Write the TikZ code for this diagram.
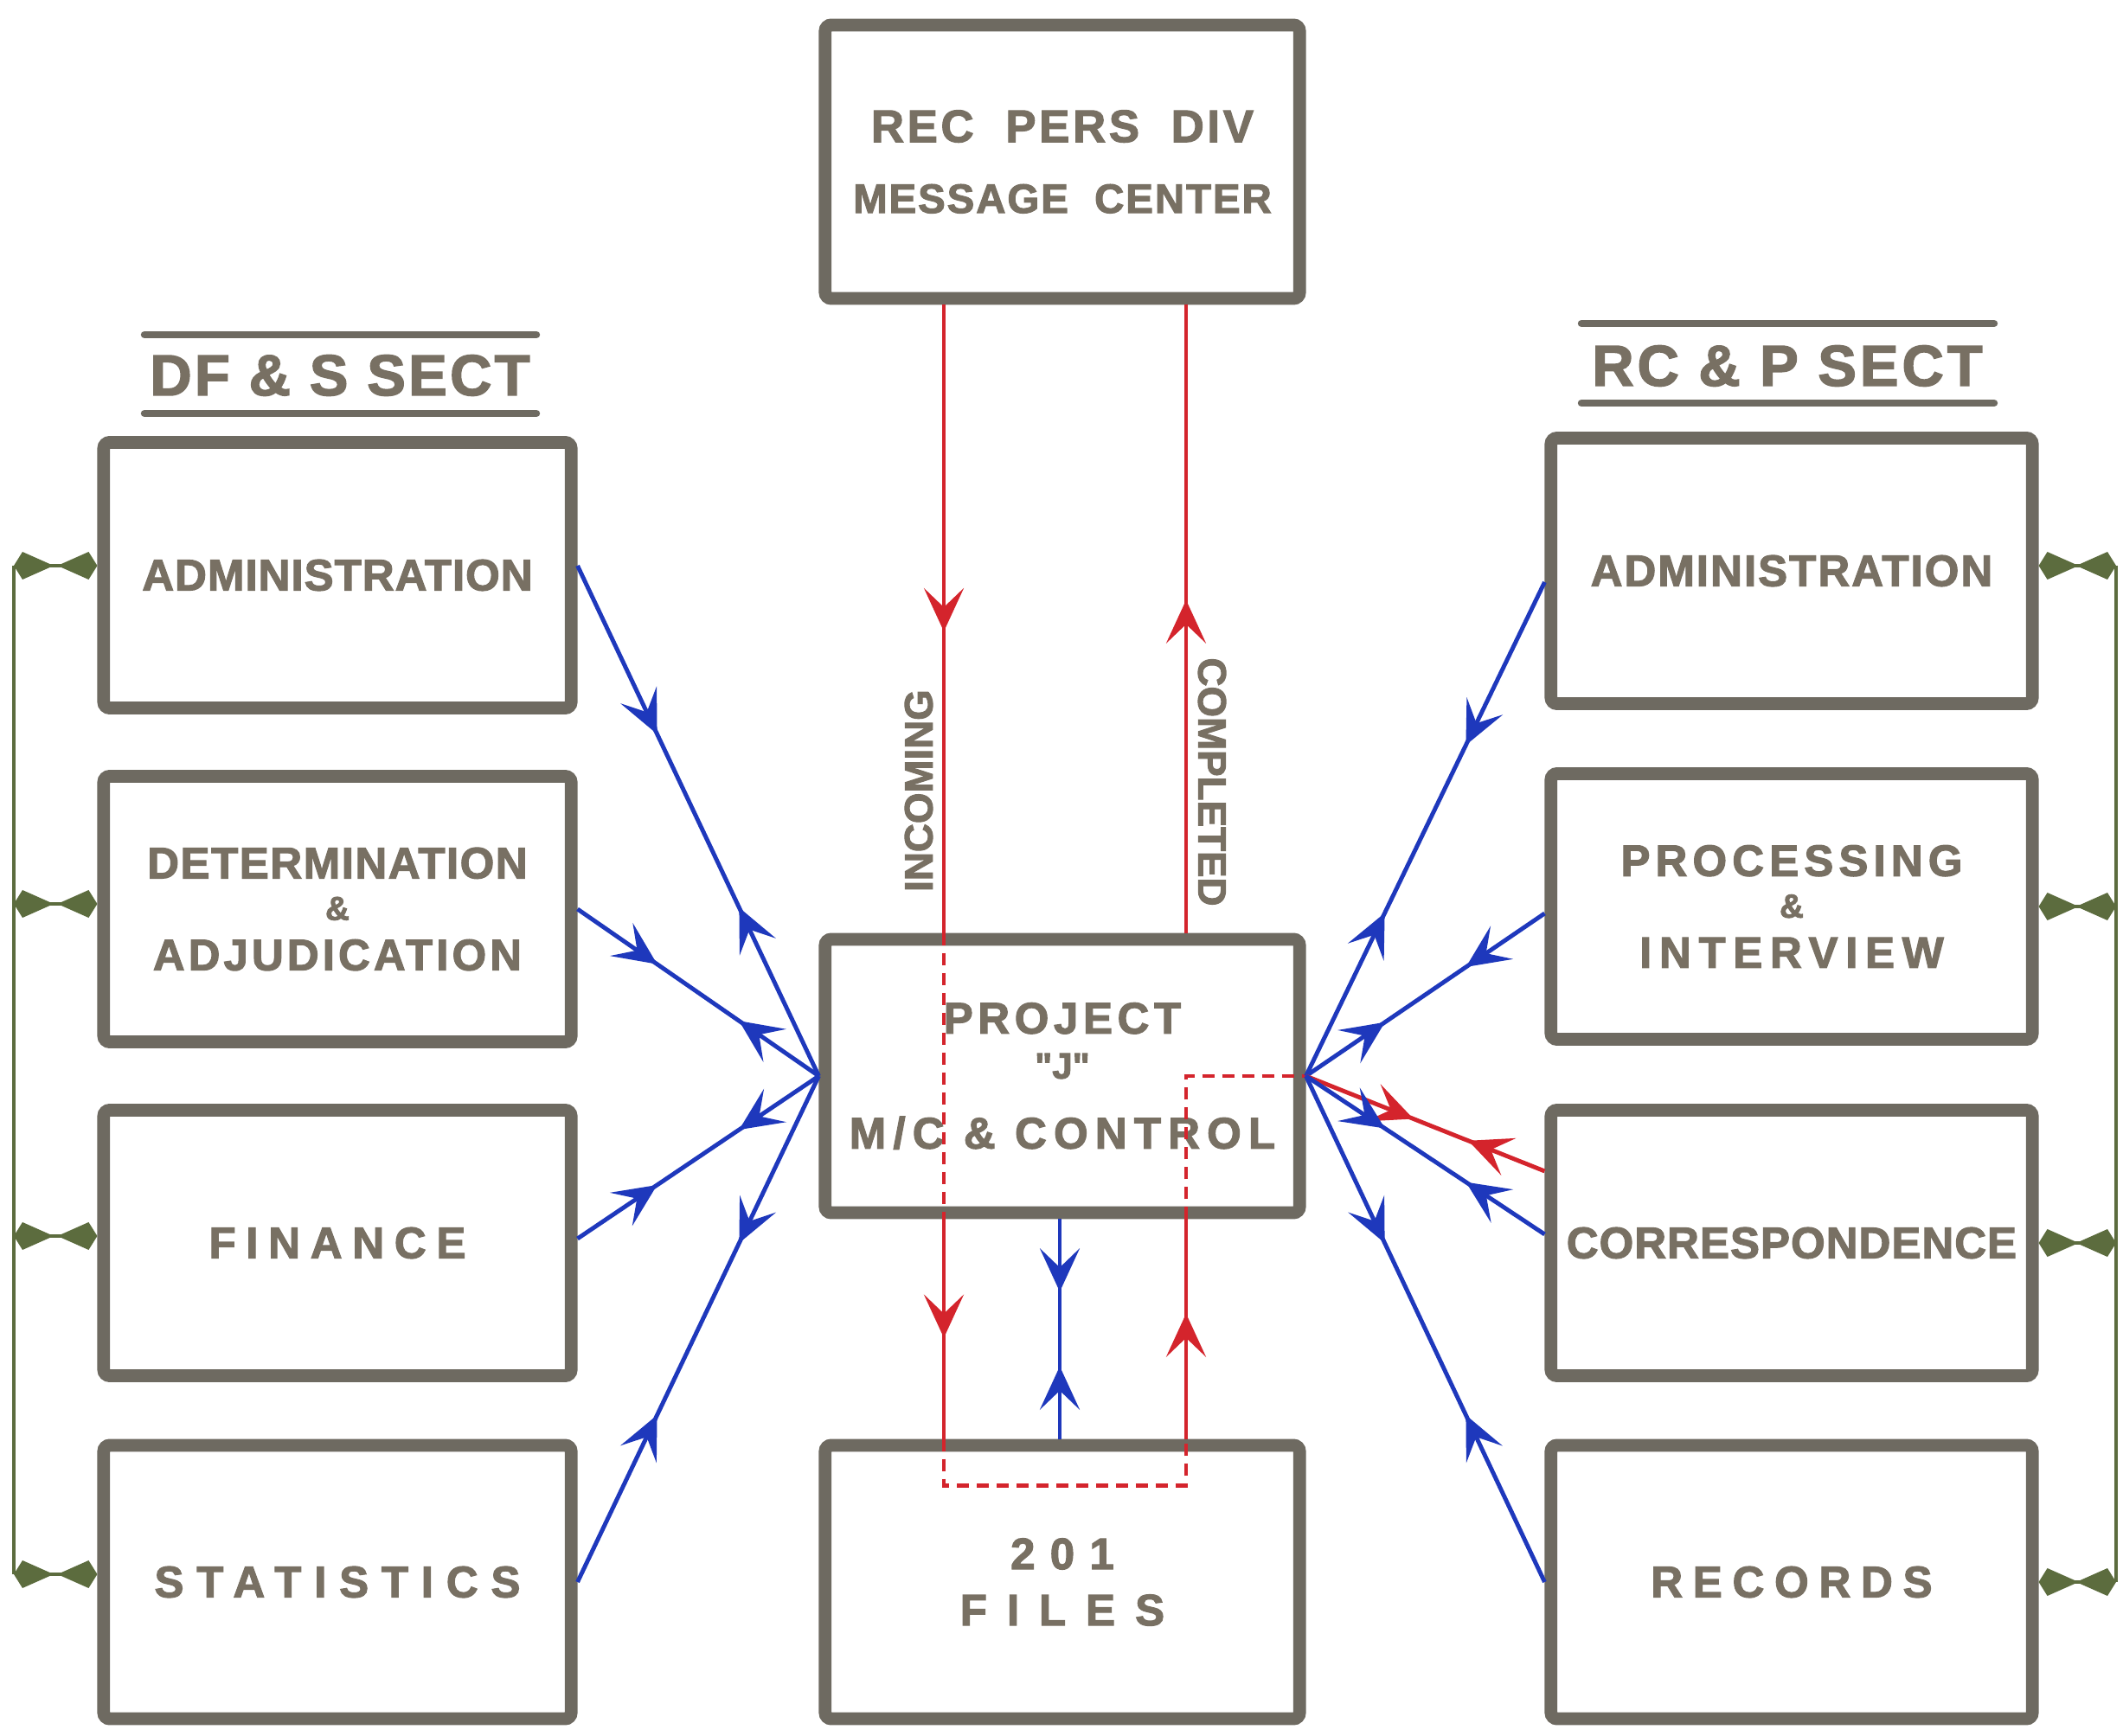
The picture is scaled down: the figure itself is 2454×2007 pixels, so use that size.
\documentclass[tikz,border=0pt]{standalone}
\usepackage{fontspec}
\setmainfont{Liberation Sans}[BoldFeatures={FakeBold=2.2}]
\usetikzlibrary{arrows.meta,decorations.markings}

\definecolor{framegray}{RGB}{110,106,97}
\definecolor{letter}{RGB}{120,112,99}
\definecolor{pathblue}{RGB}{30,56,188}
\definecolor{pathred}{RGB}{212,36,44}
\definecolor{busgreen}{RGB}{92,108,62}

\newcommand{\track}[2]{{\addfontfeature{LetterSpace=#1}#2}}

\tikzset{
  office/.style={draw=framegray, line width=4.2pt, rounded corners=2pt, fill=white,
    text=letter, align=center, font=\bfseries\fontsize{14.5}{16}\selectfont,
    minimum height=3.07cm},
  sideL/.style={office, minimum width=5.40cm},
  sideR/.style={office, minimum width=5.56cm},
  middle/.style={office, minimum width=5.48cm, minimum height=3.16cm},
  heading/.style={text=letter, font=\bfseries\fontsize{19}{21}\selectfont},
  headrule/.style={draw=framegray, line width=2.4pt, line cap=round},
  tag/.style={text=letter, font=\bfseries\fontsize{13}{15}\selectfont},
  twoway/.style n args={3}{draw=#1, color=#1, line width=1.4pt, postaction={decorate},
    decoration={markings,
      mark=at position #2 with {\arrow{Stealth[length=5mm, width=4.6mm, inset=2.2mm]}},
      mark=at position #3 with {\arrowreversed{Stealth[length=5mm, width=4.6mm, inset=2.2mm]}}}},
  oneway/.style={draw=pathred, color=pathred, line width=1.3pt, postaction={decorate},
    decoration={markings,
      mark=at position #1 with {\arrow{Stealth[length=5mm, width=4.6mm, inset=2.2mm]}}}},
  blueway/.style={twoway={pathblue}{0.33}{0.67}},
  redtrace/.style={draw=pathred, line width=1.3pt, dash pattern=on 1.4mm off 0.9mm},
  busline/.style={draw=busgreen, line width=1.3pt},
  buslink/.style={draw=busgreen, fill=busgreen, line width=1pt,
    {Kite[length=4.6mm, width=3.2mm, inset=3.6mm]}-{Kite[length=4.6mm, width=3.2mm, inset=3.6mm]}}
}

\begin{document}
\begin{tikzpicture}[x=0.01cm, y=-0.01cm]
  \fill[white] (0,0) rectangle (2454,2007);
  \useasboundingbox (0,0) rectangle (2454,2007);

  \node[middle] (msg) at (1228,187) {{\fontsize{15}{16}\selectfont\track{7}{REC\ \ PERS\ \ DIV}}\\[7.3pt]{\fontsize{13.5}{16}\selectfont\track{4}{MESSAGE\ \ CENTER}}};
  \node[middle] (proj) at (1228,1244) {\track{11}{PROJECT}\\[-1.2pt]{\fontsize{12}{12}\selectfont\addfontfeature{Ligatures=TeXOff}"J"}\\[7pt]\track{16}{M/C \& CONTROL}};
  \node[middle] (files) at (1228,1829) {\track{34}{201}\\[2.5pt]\track{45}{FILES}};

  \node[sideL] (ladm) at (390,665) {\track{2}{ADMINISTRATION}};
  \node[sideL] (ldet) at (390,1051) {\track{3}{DETERMINATION}\\[-2.3pt]{\fontsize{11}{12}\selectfont\&}\\[0.5pt]\track{8}{ADJUDICATION}};
  \node[sideL] (lfin) at (390,1437) {\track{23}{FINANCE}};
  \node[sideL, minimum height=3.16cm] (lstat) at (390,1829) {\track{29}{STATISTICS}};

  \node[sideR] (radm) at (2071,660) {\track{4}{ADMINISTRATION}};
  \node[sideR] (rproc) at (2071,1048) {\track{12}{PROCESSING}\\[-2.3pt]{\fontsize{11}{12}\selectfont\&}\\[0.5pt]\track{17}{INTERVIEW}};
  \node[sideR] (rcorr) at (2071,1437) {\track{2}{CORRESPONDENCE}};
  \node[sideR, minimum height=3.16cm] (rrec) at (2071,1829) {\track{23}{RECORDS}};

  \node[heading] (dfs) at (393,434) {\track{5}{DF \& S SECT}};
  \draw[headrule] (167,387) -- (620,387);
  \draw[headrule] (167,478) -- (620,478);
  \node[heading] (rcp) at (2066,423) {\track{6}{RC \& P SECT}};
  \draw[headrule] (1828,374) -- (2305,374);
  \draw[headrule] (1828,466) -- (2305,466);

  \node[tag, rotate=90] (incoming) at (1062,914) {INCOMING};
  \node[tag, rotate=-90] (completed) at (1401,904) {COMPLETED};

  \coordinate (inx) at (1091,0);
  \coordinate (cpx) at (1371,0);
  \coordinate (fbx) at (1225,0);

  \draw[oneway=0.52] (msg.south -| inx) -- (proj.north -| inx);
  \draw[redtrace] (proj.north -| inx) -- (proj.south -| inx);
  \draw[oneway=0.54] (proj.south -| inx) -- (files.north -| inx);
  \draw[redtrace] (files.north -| inx) -- ++(0,54) -| (files.north -| cpx);
  \draw[oneway=0.57] (files.north -| cpx) -- (proj.south -| cpx);
  \draw[redtrace] (proj.south -| cpx) |- (proj.east);
  \draw[oneway=0.53] (proj.north -| cpx) -- (msg.south -| cpx);

  \draw[blueway] (proj.south -| fbx) -- (files.north -| fbx);

  \draw[blueway] ([yshift=0.11cm]ladm.east) -- (proj.west);
  \draw[blueway] (ldet.east) -- (proj.west);
  \draw[blueway] ([yshift=0.05cm]lfin.east) -- (proj.west);
  \draw[blueway] (lstat.east) -- (proj.west);

  \draw[blueway] ([yshift=-0.13cm]radm.west) -- (proj.east);
  \draw[blueway] ([yshift=-0.08cm]rproc.west) -- (proj.east);
  \draw[twoway={pathred}{0.32}{0.55}] ([yshift=0.83cm]rcorr.west) -- (proj.east);
  \draw[blueway] ([yshift=0.1cm]rcorr.west) -- (proj.east);
  \draw[blueway] (rrec.west) -- (proj.east);

  \coordinate (lbus) at (16,0);
  \coordinate (rbus) at (2446,0);
  \draw[busline] ([yshift=0.11cm]ladm.west -| lbus) -- ([yshift=0.09cm]lstat.west -| lbus);
  \draw[buslink] ([yshift=0.11cm]ladm.west -| lbus) -- ([yshift=0.11cm]ladm.west);
  \draw[buslink] ([yshift=0.06cm]ldet.west -| lbus) -- ([yshift=0.06cm]ldet.west);
  \draw[buslink] ([yshift=0.08cm]lfin.west -| lbus) -- ([yshift=0.08cm]lfin.west);
  \draw[buslink] ([yshift=0.09cm]lstat.west -| lbus) -- ([yshift=0.09cm]lstat.west);
  \draw[busline] ([yshift=0.06cm]radm.east -| rbus) -- (rrec.east -| rbus);
  \draw[buslink] ([yshift=0.06cm]radm.east) -- ([yshift=0.06cm]radm.east -| rbus);
  \draw[buslink] (rproc.east) -- (rproc.east -| rbus);
  \draw[buslink] (rcorr.east) -- (rcorr.east -| rbus);
  \draw[buslink] (rrec.east) -- (rrec.east -| rbus);
\end{tikzpicture}
\end{document}
